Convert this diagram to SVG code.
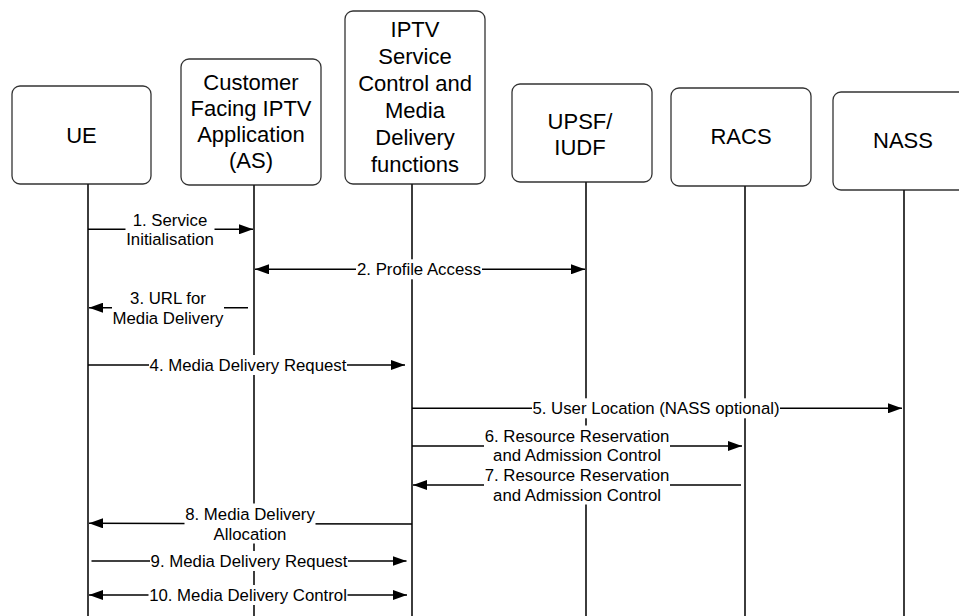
<svg xmlns="http://www.w3.org/2000/svg" width="959" height="616" viewBox="0 0 959 616">
<style>
.box{fill:#fff;stroke:#333;stroke-width:1.3}
.life{stroke:#1a1a1a;stroke-width:1.7;fill:none}
.ttl{font-family:"Liberation Sans",Arial,sans-serif;font-size:22px;fill:#000;text-anchor:middle}
.msg{stroke:#000;stroke-width:1.5;fill:none}
.lbl{font-family:"Liberation Sans",Arial,sans-serif;font-size:16.8px;fill:#000;text-anchor:middle}
.bg{fill:#fff;stroke:none}
</style>
<defs>
<marker id="ah" markerUnits="userSpaceOnUse" markerWidth="14" markerHeight="10" refX="14" refY="5" orient="auto-start-reverse">
<path d="M0,0 L14,5 L0,10 z" fill="#000"/>
</marker>
</defs>
<rect width="959" height="616" fill="#fff"/>
<g id="node-ue">
<rect class="box" x="12" y="86" width="139" height="98" rx="8"/>
<text class="ttl" x="81.5" y="143">UE</text>
<line class="life" x1="88" y1="184" x2="88" y2="616"/>
</g>
<g id="node-as">
<rect class="box" x="181" y="59" width="140" height="126" rx="8"/>
<text class="ttl" x="251"><tspan x="251" y="90">Customer</tspan><tspan x="251" y="116">Facing IPTV</tspan><tspan x="251" y="142">Application</tspan><tspan x="251" y="168">(AS)</tspan></text>
<line class="life" x1="254" y1="185" x2="254" y2="616"/>
</g>
<g id="node-iptv">
<rect class="box" x="345" y="11" width="140" height="173" rx="8"/>
<text class="ttl" x="415"><tspan x="415" y="37.3">IPTV</tspan><tspan x="415" y="64.2">Service</tspan><tspan x="415" y="91.1">Control and</tspan><tspan x="415" y="118">Media</tspan><tspan x="415" y="144.9">Delivery</tspan><tspan x="415" y="171.8">functions</tspan></text>
<line class="life" x1="412" y1="184" x2="412" y2="616"/>
</g>
<g id="node-upsf">
<rect class="box" x="512" y="84" width="140" height="98" rx="8"/>
<text class="ttl" x="580"><tspan x="580" y="128.5">UPSF/</tspan><tspan x="580" y="154.5">IUDF</tspan></text>
<line class="life" x1="586" y1="182" x2="586" y2="616"/>
</g>
<g id="node-racs">
<rect class="box" x="671" y="88" width="140" height="98" rx="8"/>
<text class="ttl" x="741" y="144">RACS</text>
<line class="life" x1="745" y1="186" x2="745" y2="616"/>
</g>
<g id="node-nass">
<rect class="box" x="833" y="92" width="140" height="98" rx="8"/>
<text class="ttl" x="903" y="148">NASS</text>
<line class="life" x1="904" y1="190" x2="904" y2="616"/>
</g>
<g id="connectors">
<g id="m1">
<line class="msg" x1="88" y1="229.3" x2="253" y2="229.3" marker-end="url(#ah)"/>
<rect class="bg" x="125.5" y="209.5" width="89" height="39.5"/>
<text class="lbl"><tspan x="170" y="225.5">1. Service</tspan><tspan x="170" y="245">Initialisation</tspan></text>
</g>
<g id="m2">
<line class="msg" x1="255" y1="269.3" x2="585" y2="269.3" marker-start="url(#ah)" marker-end="url(#ah)"/>
<rect class="bg" x="356" y="259.3" width="126" height="20"/>
<text class="lbl" x="419" y="275.3">2. Profile Access</text>
</g>
<g id="m3">
<line class="msg" x1="248" y1="307.7" x2="89" y2="307.7" marker-end="url(#ah)"/>
<rect class="bg" x="112" y="287.5" width="112" height="40"/>
<text class="lbl"><tspan x="168" y="303.5">3. URL for</tspan><tspan x="168" y="323.5">Media Delivery</tspan></text>
</g>
<g id="m4">
<line class="msg" x1="88" y1="365" x2="405" y2="365" marker-end="url(#ah)"/>
<rect class="bg" x="149" y="355" width="198" height="20"/>
<text class="lbl" x="248" y="371">4. Media Delivery Request</text>
</g>
<g id="m5">
<line class="msg" x1="412" y1="408.3" x2="902" y2="408.3" marker-end="url(#ah)"/>
<rect class="bg" x="532" y="398.3" width="248" height="20"/>
<text class="lbl" x="656" y="414.3">5. User Location (NASS optional)</text>
</g>
<g id="m6">
<line class="msg" x1="412" y1="446" x2="742" y2="446" marker-end="url(#ah)"/>
<rect class="bg" x="484" y="425.5" width="186" height="39.5"/>
<text class="lbl"><tspan x="577" y="441.5">6. Resource Reservation</tspan><tspan x="577" y="461">and Admission Control</tspan></text>
</g>
<g id="m7">
<line class="msg" x1="741" y1="485" x2="413" y2="485" marker-end="url(#ah)"/>
<rect class="bg" x="484" y="465" width="186" height="39.5"/>
<text class="lbl"><tspan x="577" y="481">7. Resource Reservation</tspan><tspan x="577" y="500.5">and Admission Control</tspan></text>
</g>
<g id="m8">
<line class="msg" x1="412" y1="524" x2="89" y2="523.3" marker-end="url(#ah)"/>
<rect class="bg" x="184.5" y="503.5" width="131" height="40"/>
<text class="lbl"><tspan x="250" y="519.5">8. Media Delivery</tspan><tspan x="250" y="539.5">Allocation</tspan></text>
</g>
<g id="m9">
<line class="msg" x1="91.5" y1="561" x2="406.5" y2="561" marker-end="url(#ah)"/>
<rect class="bg" x="150" y="551" width="198" height="20"/>
<text class="lbl" x="249" y="567">9. Media Delivery Request</text>
</g>
<g id="m10">
<line class="msg" x1="89" y1="595" x2="407" y2="595" marker-start="url(#ah)" marker-end="url(#ah)"/>
<rect class="bg" x="148.5" y="585" width="199" height="20"/>
<text class="lbl" x="248" y="601">10. Media Delivery Control</text>
</g>
</g>
</svg>
